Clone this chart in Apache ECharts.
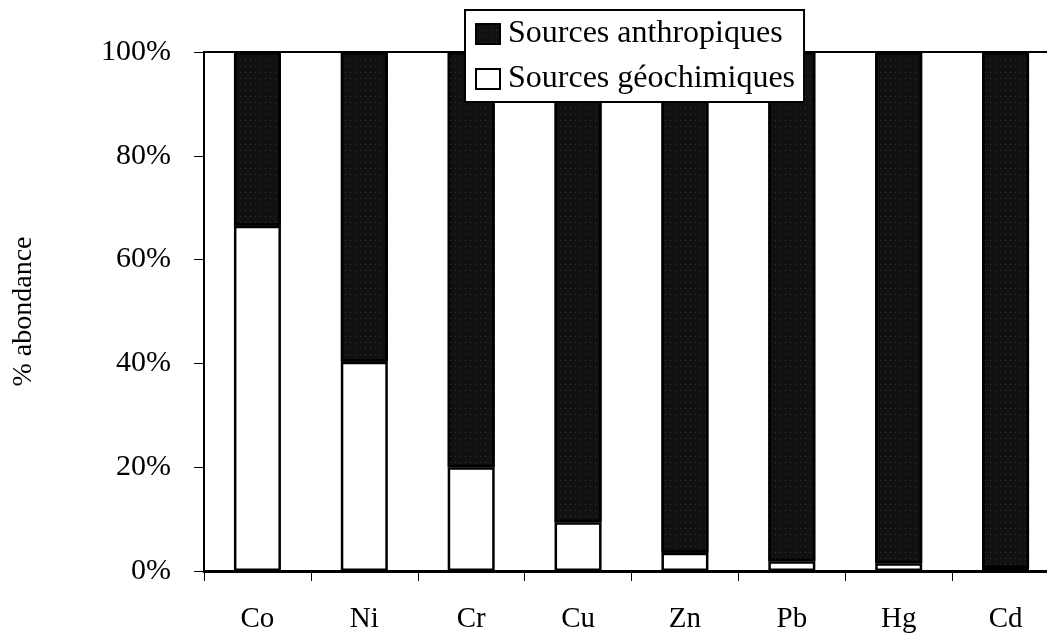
<!DOCTYPE html>
<html>
<head>
<meta charset="utf-8">
<script src="https://cdn.jsdelivr.net/npm/echarts@6/dist/echarts.min.js"></script>
<style>
  html, body { margin: 0; padding: 0; background: #fff; }
  #chart { width: 1047px; height: 640px; }
</style>
</head>
<body>
<div id="chart"></div>
<script>
const elements = ['Co', 'Ni', 'Cr', 'Cu', 'Zn', 'Pb', 'Hg', 'Cd']
// share of geochemical sources (%)
const geochimiques = [66.5, 40.3, 20, 9.4, 3.5, 1.9, 1.5, 0.6]
// the rest of each bar is anthropic
const anthropiques = [33.5, 59.7, 80, 90.6, 96.5, 98.1, 98.5, 99.4]
const yTicks = [0, 20, 40, 60, 80, 100]

const serif = '"Liberation Serif", "DejaVu Serif", serif'

let myChart = echarts.init(document.getElementById('chart'))

let options = {
  backgroundColor: '#fff',
  animation: false,
  legend: {
    orient: 'vertical',
    left: 465,
    top: 10,
    icon: 'rect',
    backgroundColor: '#fff',
    borderColor: '#000',
    borderWidth: 2,
    padding: [8, 9, 7, 10],
    itemWidth: 24,
    itemHeight: 20,
    itemGap: 13,
    textStyle: {
      fontFamily: serif,
      fontSize: 32,
      color: '#000',
      padding: [0, 0, 0, 3]
    },
    data: ['Sources anthropiques', 'Sources géochimiques']
  },
  grid: {
    left: 204,
    top: 52,
    bottom: 69,
    right: -12,
    outerBoundsMode: 'none',
    show: true,
    borderColor: '#000',
    borderWidth: 2,
    backgroundColor: '#fff'
  },
  xAxis: {
    type: 'category',
    data: elements,
    axisLine: { lineStyle: { color: '#000', width: 3 } },
    axisTick: { show: true, length: 10, lineStyle: { color: '#000', width: 1 } },
    axisLabel: {
      margin: 34,
      fontFamily: serif,
      fontSize: 29,
      color: '#000'
    }
  },
  yAxis: {
    type: 'value',
    min: yTicks[0],
    max: yTicks[yTicks.length - 1],
    interval: 20,
    name: '% abondance',
    nameLocation: 'middle',
    nameGap: 166,
    nameTextStyle: {
      fontFamily: serif,
      fontSize: 28,
      color: '#000'
    },
    splitLine: { show: false },
    axisLine: { show: true, lineStyle: { color: '#000', width: 2 } },
    axisTick: { show: true, length: 10, lineStyle: { color: '#000', width: 1 } },
    axisLabel: {
      margin: 33,
      fontFamily: serif,
      fontSize: 30,
      color: '#000',
      formatter: '{value}%'
    }
  },
  series: [
    {
      name: 'Sources géochimiques',
      type: 'bar',
      stack: 'total',
      barWidth: 47,
      itemStyle: {
        color: '#fff',
        borderColor: '#000',
        borderWidth: 2.5
      },
      data: geochimiques
    },
    {
      name: 'Sources anthropiques',
      type: 'bar',
      stack: 'total',
      barWidth: 47,
      itemStyle: {
        color: '#111',
        borderColor: '#000',
        borderWidth: 2.5,
        decal: {
          symbol: 'rect',
          symbolSize: 0.7,
          color: 'rgba(255,255,255,0.45)',
          dashArrayX: [1, 4],
          dashArrayY: [1, 5],
          rotation: 0
        }
      },
      data: anthropiques
    }
  ]
}
myChart.setOption(options)
</script>
</body>
</html>
